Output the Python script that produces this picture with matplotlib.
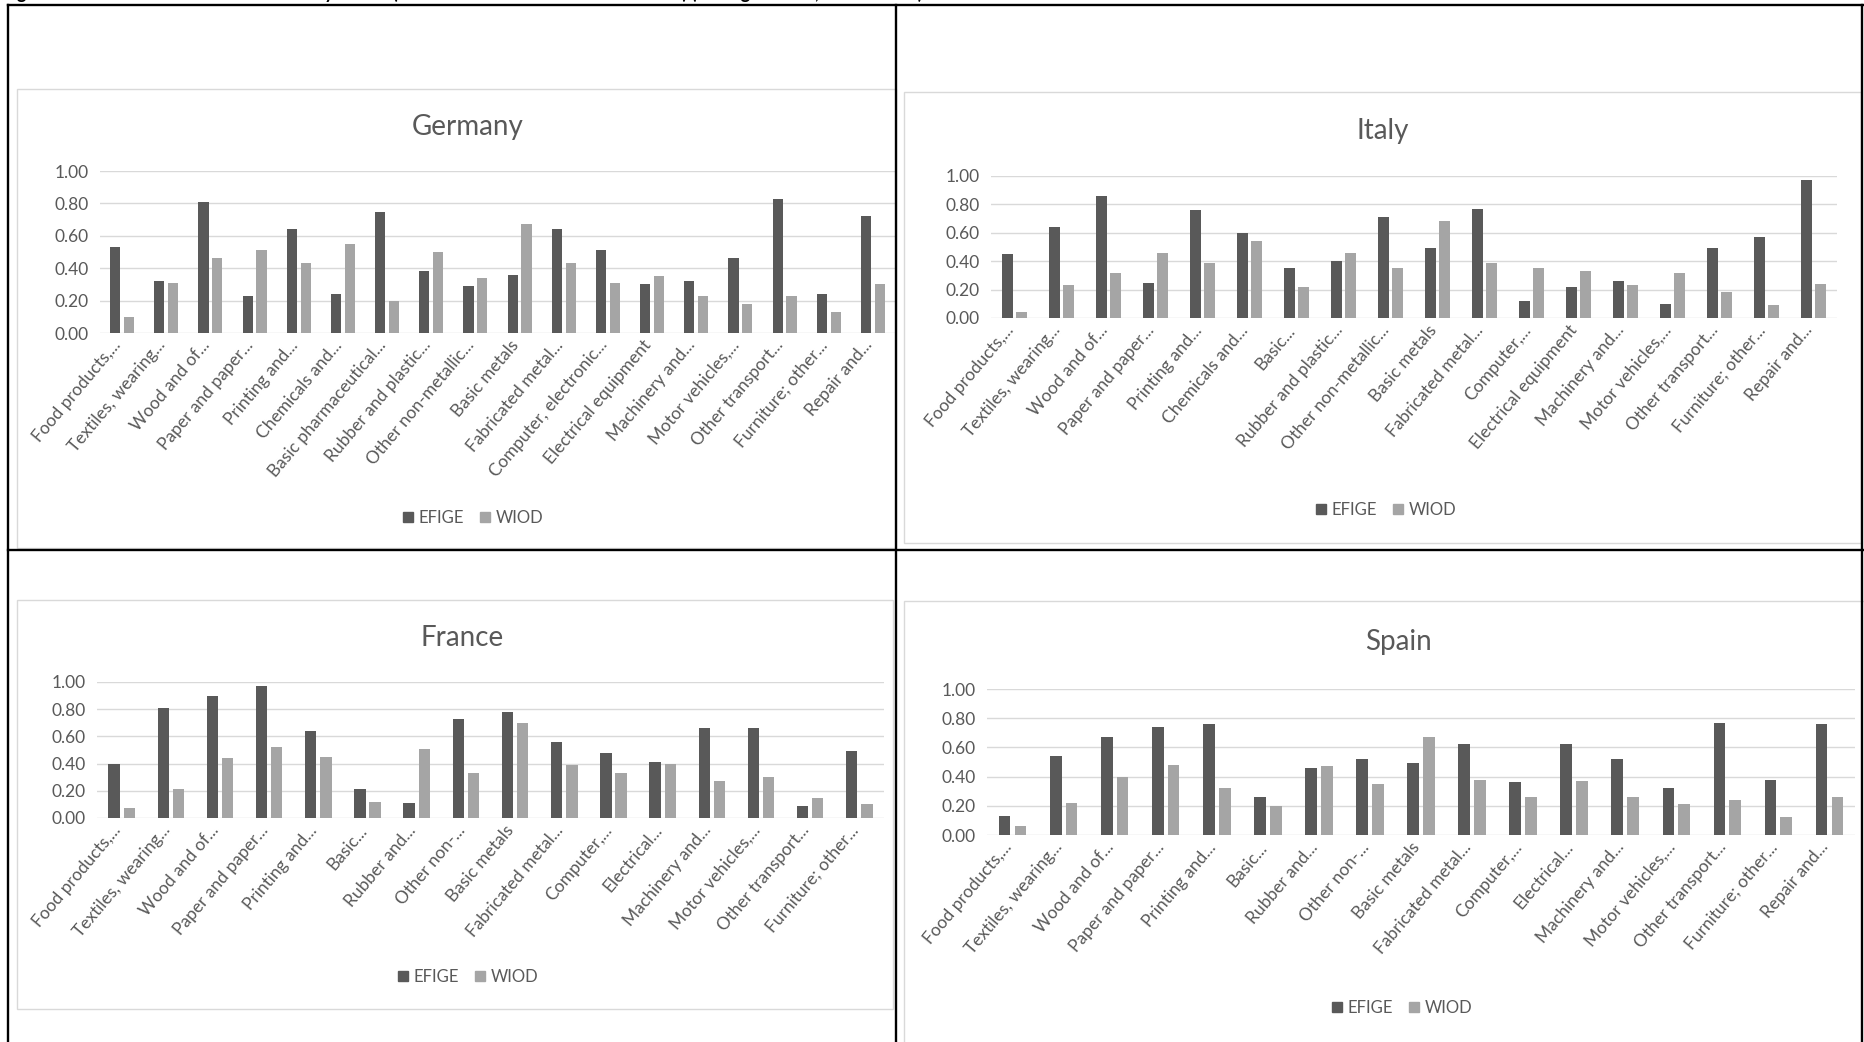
import matplotlib
matplotlib.use("Agg")
import matplotlib.pyplot as plt
import matplotlib.transforms as mtransforms
import numpy as np
from matplotlib.patches import Rectangle, Patch
from matplotlib.lines import Line2D

plt.rcParams["font.family"] = ["Lato", "DejaVu Sans"]

W, H = 1865, 1042

# ---- data ----
germany_labels = ["Food products,...", "Textiles, wearing...", "Wood and of...",
                  "Paper and paper...", "Printing and...", "Chemicals and...",
                  "Basic pharmaceutical...", "Rubber and plastic...",
                  "Other non-metallic...", "Basic metals", "Fabricated metal...",
                  "Computer, electronic...", "Electrical equipment",
                  "Machinery and...", "Motor vehicles,...", "Other transport...",
                  "Furniture; other...", "Repair and..."]
germany_efige = [0.53, 0.32, 0.81, 0.23, 0.64, 0.24, 0.75, 0.38, 0.29, 0.36,
                 0.64, 0.51, 0.30, 0.32, 0.46, 0.83, 0.24, 0.72]
germany_wiod = [0.10, 0.31, 0.46, 0.51, 0.43, 0.55, 0.20, 0.50, 0.34, 0.67,
                0.43, 0.31, 0.35, 0.23, 0.18, 0.23, 0.13, 0.30]

italy_labels = ["Food products,...", "Textiles, wearing...", "Wood and of...",
                "Paper and paper...", "Printing and...", "Chemicals and...",
                "Basic...", "Rubber and plastic...", "Other non-metallic...",
                "Basic metals", "Fabricated metal...", "Computer,...",
                "Electrical equipment", "Machinery and...", "Motor vehicles,...",
                "Other transport...", "Furniture; other...", "Repair and..."]
italy_efige = [0.45, 0.64, 0.86, 0.25, 0.76, 0.60, 0.35, 0.40, 0.71, 0.49,
               0.77, 0.12, 0.22, 0.26, 0.10, 0.49, 0.57, 0.97]
italy_wiod = [0.04, 0.23, 0.32, 0.46, 0.39, 0.54, 0.22, 0.46, 0.35, 0.68,
              0.39, 0.35, 0.33, 0.23, 0.32, 0.18, 0.09, 0.24]

france_labels = ["Food products,...", "Textiles, wearing...", "Wood and of...",
                 "Paper and paper...", "Printing and...", "Basic...",
                 "Rubber and...", "Other non-...", "Basic metals",
                 "Fabricated metal...", "Computer,...", "Electrical...",
                 "Machinery and...", "Motor vehicles,...", "Other transport...",
                 "Furniture; other..."]
france_efige = [0.40, 0.81, 0.90, 0.97, 0.64, 0.21, 0.11, 0.73, 0.78, 0.56,
                0.48, 0.41, 0.66, 0.66, 0.09, 0.49]
france_wiod = [0.07, 0.21, 0.44, 0.52, 0.45, 0.12, 0.51, 0.33, 0.70, 0.39,
               0.33, 0.40, 0.27, 0.30, 0.15, 0.10]

spain_labels = ["Food products,...", "Textiles, wearing...", "Wood and of...",
                "Paper and paper...", "Printing and...", "Basic...",
                "Rubber and...", "Other non-...", "Basic metals",
                "Fabricated metal...", "Computer,...", "Electrical...",
                "Machinery and...", "Motor vehicles,...", "Other transport...",
                "Furniture; other...", "Repair and..."]
spain_efige = [0.13, 0.54, 0.67, 0.74, 0.76, 0.26, 0.46, 0.52, 0.49, 0.62,
               0.36, 0.62, 0.52, 0.32, 0.77, 0.38, 0.76]
spain_wiod = [0.06, 0.22, 0.40, 0.48, 0.32, 0.20, 0.47, 0.35, 0.67, 0.38,
              0.26, 0.37, 0.26, 0.21, 0.24, 0.12, 0.26]

yticks = [0.0, 0.2, 0.4, 0.6, 0.8, 1.0]

EFIGE_COLOR = "#595959"
WIOD_COLOR = "#a5a5a5"
TEXT_COLOR = "#595959"
GRID_COLOR = "#d9d9d9"


def fx(px):
    return px / W


def fy(py):
    return 1 - py / H


def draw_chart(fig, plot_box, area_box, title, title_xy, legend_xy,
               labels, efige, wiod):
    # chart area frame
    l, t, r, b = area_box
    fig.patches.append(Rectangle((fx(l), fy(b)), fx(r - l), (b - t) / H,
                                 transform=fig.transFigure, fill=False,
                                 edgecolor=GRID_COLOR, lw=1.0, zorder=0))
    l, t, r, b = plot_box
    ax = fig.add_axes([fx(l), fy(b), fx(r - l), (b - t) / H])
    x = np.arange(len(labels))
    ax.bar(x - 0.155, efige, width=0.23, color=EFIGE_COLOR, zorder=3)
    ax.bar(x + 0.155, wiod, width=0.23, color=WIOD_COLOR, zorder=3)
    ax.set_xlim(-0.5, len(labels) - 0.5)
    ax.set_ylim(0, 1)
    ax.set_yticks(yticks)
    ax.set_yticklabels(["%.2f" % v for v in yticks])
    ax.yaxis.grid(True, color=GRID_COLOR, lw=1.0)
    ax.set_axisbelow(True)
    for s in ax.spines.values():
        s.set_visible(False)
    ax.tick_params(axis="both", length=0, colors=TEXT_COLOR, labelsize=12.5)
    ax.tick_params(axis="y", pad=8)
    ax.set_xticks(x)
    ax.set_xticklabels(labels, rotation=50, ha="right", rotation_mode="anchor",
                       fontsize=12.5, color=TEXT_COLOR)
    ax.tick_params(axis="x", pad=3)
    shift = mtransforms.ScaledTranslation(-10 / 100, 0, fig.dpi_scale_trans)
    for lab in ax.get_xticklabels():
        lab.set_transform(lab.get_transform() + shift)
    ax.patch.set_alpha(0)

    fig.text(fx(title_xy[0]), fy(title_xy[1]), title, ha="center", va="center",
             fontsize=20, color=TEXT_COLOR)
    handles = [Patch(color=EFIGE_COLOR, label="EFIGE"),
               Patch(color=WIOD_COLOR, label="WIOD")]
    ax.legend(handles=handles, loc="center",
              bbox_to_anchor=(fx(legend_xy[0]), fy(legend_xy[1])),
              bbox_transform=fig.transFigure, ncol=2, frameon=False,
              handlelength=0.6, handleheight=0.6, handletextpad=0.3,
              columnspacing=1.0, fontsize=12, labelcolor=TEXT_COLOR)
    return ax


fig = plt.figure(figsize=(W / 100, H / 100), dpi=100)
fig.patch.set_facecolor("white")

draw_chart(fig, (100, 171, 895, 333), (17, 89, 896, 548), "Germany",
           (468, 127), (473, 518), germany_labels, germany_efige, germany_wiod)
draw_chart(fig, (991, 176, 1837, 318), (904, 92, 1861, 543), "Italy",
           (1383, 131), (1386, 510), italy_labels, italy_efige, italy_wiod)
draw_chart(fig, (97, 682, 884, 818), (17, 600, 893, 1009), "France",
           (462, 638), (468, 977), france_labels, france_efige, france_wiod)
draw_chart(fig, (987, 689, 1855, 835), (904, 601, 1870, 1050), "Spain",
           (1398, 642), (1402, 1008), spain_labels, spain_efige, spain_wiod)

# table borders
lines = [((8, 1863), (5, 5)), ((8, 8), (5, 1042)), ((896, 896), (5, 1042)),
         ((1862, 1862), (5, 1042)), ((8, 1863), (550, 550))]
for xs, ys in lines:
    fig.lines.append(Line2D([fx(xs[0]), fx(xs[1])], [fy(ys[0]), fy(ys[1])],
                            transform=fig.transFigure, color="black", lw=1.7,
                            zorder=10))

# caption above the table, cut off by the top edge as in the source page
fig.text(fx(2), fy(-1.5), "Figure 4: Internationalization indicator by sector "
         "(EFIGE micro-data and WIOD tables) (average values, 2008\u20132010)",
         ha="left", va="baseline", fontsize=13, fontweight="bold", color="black")

fig.savefig("out.png", dpi=100)
